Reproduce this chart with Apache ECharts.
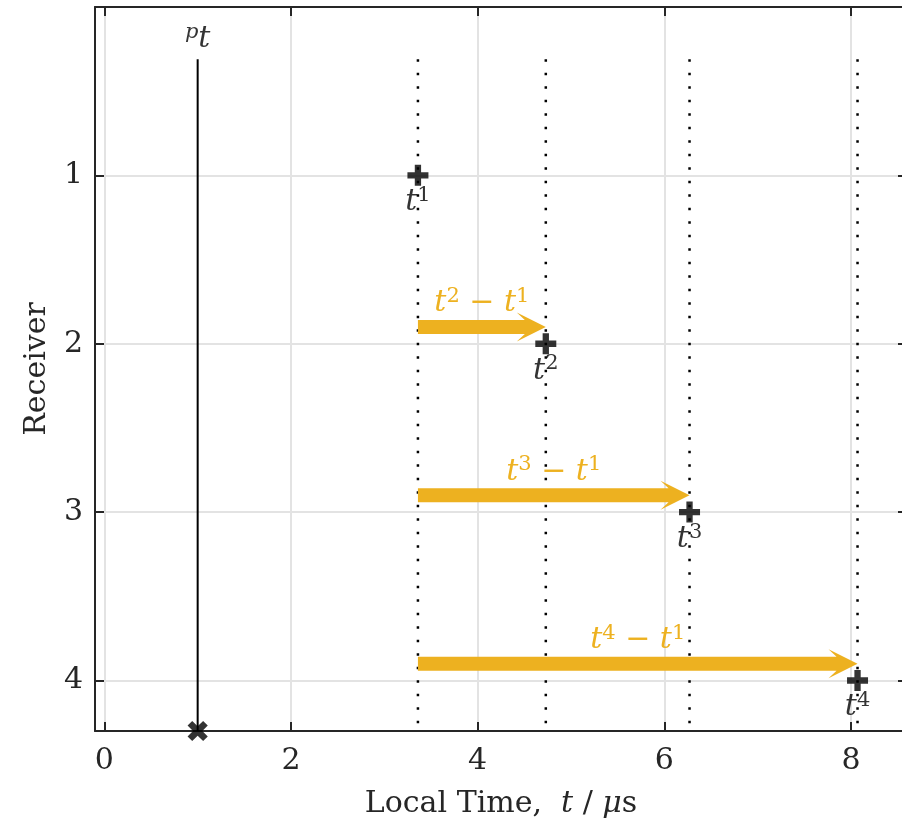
<!DOCTYPE html>
<html>
<head>
<meta charset="utf-8">
<script src="https://cdn.jsdelivr.net/npm/echarts@6/dist/echarts.min.js"></script>
<style>
  html, body { margin: 0; padding: 0; background: #fff; }
  #chart { width: 902px; height: 826px; }
</style>
</head>
<body>
<div id="chart"></div>
<script>
// receivers and their local arrival times (µs)
const receivers = [1, 2, 3, 4]
const arrivalTimes = [3.36, 4.73, 6.27, 8.07]
const arrivalSup = ['1', '2', '3', '4']
// emission time and the extent of the vertical guide lines
const emitTime = 1.0
const guideTop = 0.31
const xMin = -0.1
const xMax = 8.6
const yMin = 0
const yMax = 4.3
const xTicks = [0, 2, 4, 6, 8]
const yTicks = [1, 2, 3, 4]

const ORANGE = '#EDB120'
const AXIS = '#262626'
const FONT = 'DejaVu Serif'

const baseRich = {
  rm: { fontFamily: FONT, fontSize: 30 },
  it: { fontFamily: FONT, fontSize: 30, fontStyle: 'italic' },
  sup: { fontFamily: FONT, fontSize: 21, padding: [0, 0, 14, 0] },
  supit: { fontFamily: FONT, fontSize: 21, fontStyle: 'italic', padding: [0, 0, 14, 0] },
}
// echarts labels take `color`, raw zrender text takes `fill`
function richWith(color, key) {
  const r = {}
  for (const k in baseRich) r[k] = Object.assign({}, baseRich[k], { [key || 'color']: color })
  return r
}

const guideData = arrivalTimes.map((t) => [t, guideTop, yMax])
const arrowData = arrivalTimes.slice(1).map((t, i) => [arrivalTimes[0], t, receivers[i + 1] - 0.1, arrivalSup[i + 1]])
const markerData = arrivalTimes.map((t, i) => ({ value: [t, receivers[i]], sup: arrivalSup[i] }))

const plusPath = 'path://M3.5,0h3v3.5h3.5v3h-3.5v3.5h-3v-3.5h-3.5v-3h3.5z'

const chart = echarts.init(document.getElementById('chart'), null, { renderer: 'canvas' })

const hiddenAxis = {
  axisLabel: { show: false },
  splitLine: { show: false },
  axisLine: { show: true, onZero: false, lineStyle: { color: AXIS, width: 2 } },
  axisTick: { show: true, inside: true, length: 9, lineStyle: { color: AXIS, width: 2 } },
}

chart.setOption({
  backgroundColor: '#fff',
  animation: false,
  grid: { left: 95, top: 7, width: 812, bottom: 95, containLabel: false, outerBoundsMode: 'none' },
  xAxis: [
    {
      type: 'value', min: xMin, max: xMax, position: 'bottom',
      name: '{rm|Local Time,  }{it|t}{rm| / }{it|μ}{rm|s}',
      nameLocation: 'middle', nameGap: 58,
      nameTextStyle: { rich: richWith(AXIS) },
      axisLine: { show: true, onZero: false, lineStyle: { color: AXIS, width: 2 } },
      axisTick: { show: true, inside: true, length: 9, lineStyle: { color: AXIS, width: 2 } },
      axisLabel: {
        margin: 15, color: AXIS, fontFamily: FONT, fontSize: 30,
        formatter: (v) => (xTicks.includes(v) ? String(v) : ''),
      },
      splitLine: { show: true, lineStyle: { color: '#e3e3e3', width: 2 } },
    },
    Object.assign({ type: 'value', min: xMin, max: xMax, position: 'top' }, hiddenAxis),
  ],
  yAxis: [
    {
      type: 'value', min: yMin, max: yMax, interval: 1, inverse: true, position: 'left',
      name: 'Receiver', nameLocation: 'middle', nameGap: 43,
      nameTextStyle: { color: AXIS, fontFamily: FONT, fontSize: 30 },
      axisLine: { show: true, onZero: false, lineStyle: { color: AXIS, width: 2 } },
      axisTick: { show: true, inside: true, length: 9, lineStyle: { color: AXIS, width: 2 } },
      axisLabel: {
        margin: 12, color: AXIS, fontFamily: FONT, fontSize: 30,
        formatter: (v) => (yTicks.includes(v) ? String(v) : ''),
      },
      splitLine: { show: true, lineStyle: { color: '#e3e3e3', width: 2 } },
    },
    Object.assign({ type: 'value', min: yMin, max: yMax, interval: 1, inverse: true, position: 'right' }, hiddenAxis),
  ],
  series: [
    {
      // dotted guides at each arrival time
      type: 'custom',
      data: guideData,
      clip: false,
      renderItem: (params, api) => {
        const a = api.coord([api.value(0), api.value(1)])
        const b = api.coord([api.value(0), api.value(2)])
        return {
          type: 'line',
          shape: { x1: a[0], y1: a[1], x2: b[0], y2: b[1] },
          style: { stroke: '#000', lineWidth: 2.5, lineDash: [2.5, 11] },
        }
      },
      z: 2,
    },
    {
      // emission time line
      type: 'line',
      data: [[emitTime, guideTop], [emitTime, yMax]],
      symbol: 'none',
      lineStyle: { color: '#000', width: 2 },
      z: 3,
    },
    {
      type: 'scatter',
      data: [[emitTime, yMax]],
      symbol: plusPath,
      symbolRotate: 45,
      symbolSize: 22,
      clip: false,
      itemStyle: { color: '#000' },
      z: 6,
    },
    {
      type: 'scatter',
      data: [[emitTime, guideTop]],
      symbolSize: 0,
      clip: false,
      label: {
        show: true, position: 'top', distance: 2,
        formatter: '{supit|p}{it|t}',
        rich: richWith('#000'),
      },
      z: 6,
    },
    {
      // arrows t^n - t^1
      type: 'custom',
      data: arrowData,
      clip: false,
      renderItem: (params, api) => {
        const p0 = api.coord([api.value(0), api.value(2)])
        const p1 = api.coord([api.value(1), api.value(2)])
        const h = 7, hl = 29, hw = 14.5, notch = 21
        const y = p0[1]
        const points = [
          [p0[0], y - h], [p1[0] - notch, y - h], [p1[0] - hl, y - hw], [p1[0], y],
          [p1[0] - hl, y + hw], [p1[0] - notch, y + h], [p0[0], y + h],
        ]
        const sup = arrowData[params.dataIndex][3]
        return {
          type: 'group',
          children: [
            { type: 'polygon', shape: { points }, style: { fill: ORANGE } },
            {
              type: 'text', x: (p0[0] + p1[0]) / 2, y: y - 6,
              style: {
                text: '{it|t}{sup|' + sup + '}{rm| − }{it|t}{sup|1}',
                rich: richWith(ORANGE, 'fill'), fill: ORANGE,
                align: 'center', verticalAlign: 'bottom',
              },
            },
          ],
        }
      },
      z: 4,
    },
    {
      // arrival markers
      type: 'scatter',
      data: markerData,
      symbol: plusPath,
      symbolSize: 21,
      clip: false,
      itemStyle: { color: '#000' },
      label: {
        show: true, position: 'bottom', distance: -1,
        formatter: (p) => '{it|t}{sup|' + p.data.sup + '}',
        rich: richWith('#000'),
      },
      z: 6,
    },
  ],
})
</script>
</body>
</html>
